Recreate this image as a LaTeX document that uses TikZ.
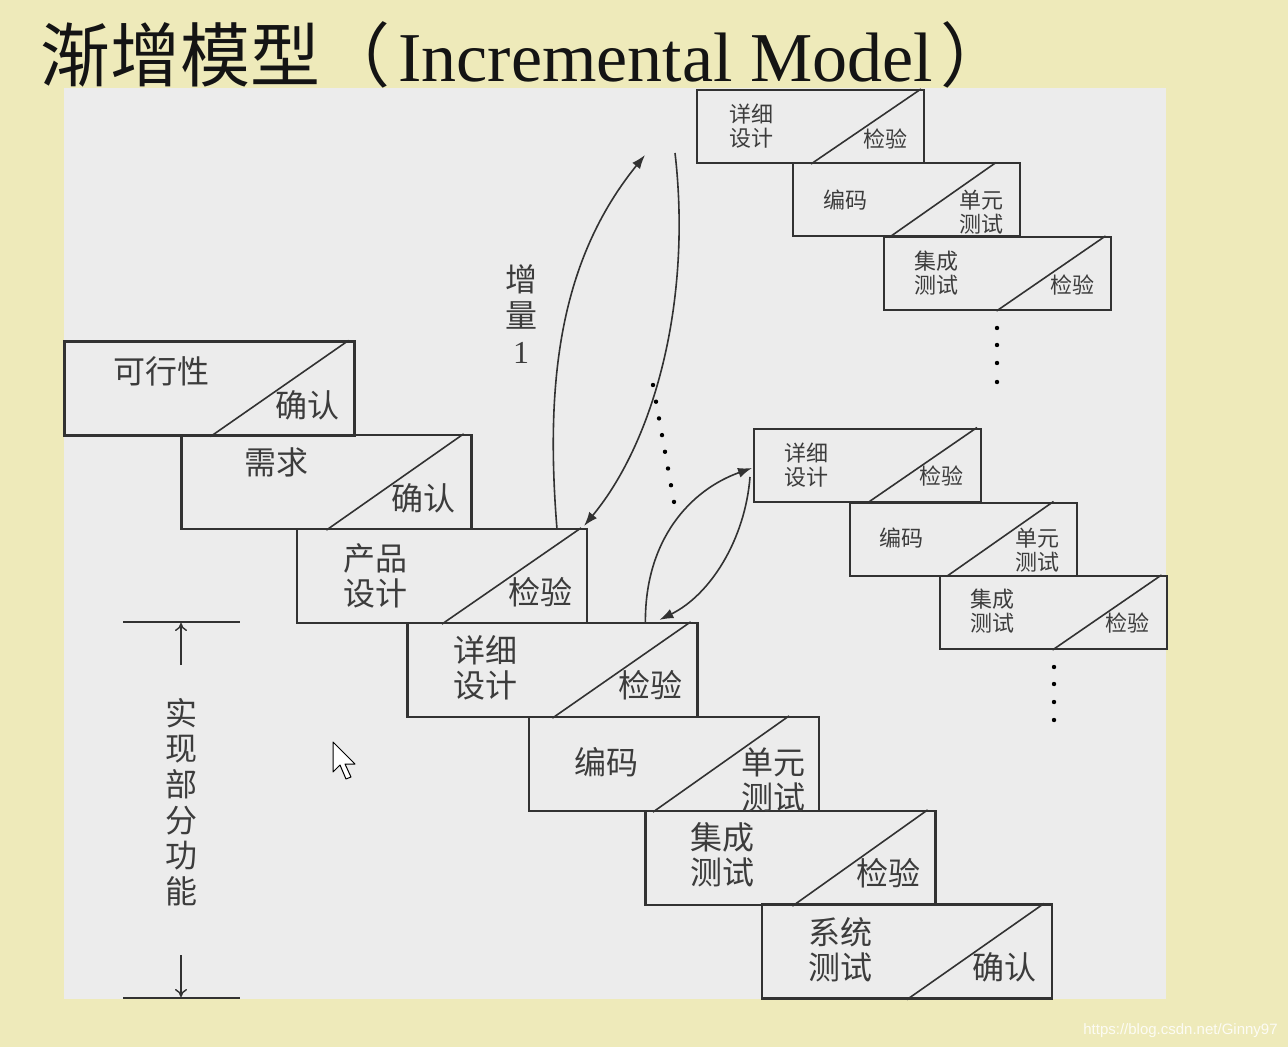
\documentclass[tikz,border=0pt]{standalone}
\usepackage{fontspec}
\setmainfont{Noto Sans CJK SC}
\newfontfamily\latinf{Liberation Serif}
\newfontfamily\wmfont{Liberation Sans}
\usetikzlibrary{calc,arrows.meta}
\definecolor{bgyellow}{RGB}{238,234,186}
\definecolor{panelgray}{RGB}{236,236,236}
\definecolor{linec}{RGB}{50,50,50}
\definecolor{txtc}{RGB}{60,60,60}
\begin{document}
\begin{tikzpicture}[x=0.5pt,y=-0.5pt,
  bigbox/.style={draw=linec,line width=1.1pt,minimum width=145pt,minimum height=47pt,inner sep=0pt},
  smallbox/.style={draw=linec,line width=1pt,minimum width=113.5pt,minimum height=36.5pt,inner sep=0pt},
  diag/.style={draw=linec,line width=0.8pt},
  bigtxt/.style={text=txtc,font=\fontsize{16}{17.5}\selectfont,inner sep=0pt,align=center},
  smalltxt/.style={text=txtc,font=\fontsize{11}{12}\selectfont,inner sep=0pt,align=center},
  conn/.style={draw=linec,line width=0.8pt},
  arr/.style={conn,-{Latex[length=7pt,width=5pt]}},
  dimarr/.style={draw=linec,line width=0.7pt,-{To[length=4pt,width=6pt]}},
  dotc/.style={fill=black}
]
\useasboundingbox (0,0) rectangle (1288,1047);
\fill[bgyellow] (0,0) rectangle (1288,1047);
\fill[panelgray] (64,88) rectangle (1166,999);

% title
\node[anchor=base west,inner sep=0pt,text={rgb,255:red,20;green,20;blue,20},font=\fontsize{35}{35}\selectfont] (title) at (40,82)
  {渐增模型（\hspace{4pt}{\latinf Incremental Model}\hspace{4pt}）};

% main staircase
\node[bigbox] (b1) at (209.5,388.5) {};
\node[bigbox] (b2) at (326.5,482) {};
\node[bigbox] (b3) at (442,576) {};
\node[bigbox] (b4) at (552.5,670) {};
\node[bigbox] (b5) at (674,764) {};
\node[bigbox] (b6) at (790.5,858) {};
\node[bigbox] (b7) at (907,951.5) {};
\draw[diag] ($(b1.south west)+(147,0)$) -- ($(b1.north east)+(-7,0)$);
\draw[diag] ($(b2.south west)+(146,0)$) -- ($(b2.north east)+(-9,0)$);
\draw[diag] ($(b3.south west)+(146,0)$) -- ($(b3.north east)+(-7,0)$);
\draw[diag] ($(b4.south west)+(146,0)$) -- ($(b4.north east)+(-8,0)$);
\draw[diag] ($(b5.south west)+(125,0)$) -- ($(b5.north east)+(-31,0)$);
\draw[diag] ($(b6.south west)+(148,0)$) -- ($(b6.north east)+(-9,0)$);
\draw[diag] ($(b7.south west)+(146,0)$) -- ($(b7.north east)+(-9,0)$);

\node[bigtxt] (t1a) at (161,371) {可行性};
\node[bigtxt] (t1b) at (307,405) {确认};
\node[bigtxt] (t2a) at (276,462) {需求};
\node[bigtxt] (t2b) at (423,498) {确认};
\node[bigtxt] (t3a) at (375,575.5) {产品\\设计};
\node[bigtxt] (t3b) at (540,592) {检验};
\node[bigtxt] (t4a) at (485,667.5) {详细\\设计};
\node[bigtxt] (t4b) at (650,685) {检验};
\node[bigtxt] (t5a) at (606,762) {编码};
\node[bigtxt] (t5b) at (773,779.5) {单元\\测试};
\node[bigtxt] (t6a) at (722,855) {集成\\测试};
\node[bigtxt] (t6b) at (888,873) {检验};
\node[bigtxt] (t7a) at (840,949.5) {系统\\测试};
\node[bigtxt] (t7b) at (1004,967) {确认};

% top-right staircase
\node[smallbox] (a1) at (810.5,126.5) {};
\node[smallbox] (a2) at (906.5,200) {};
\node[smallbox] (a3) at (997,273.5) {};
\draw[diag] ($(a1.south west)+(115,0)$) -- ($(a1.north east)+(-4,0)$);
\draw[diag] ($(a2.south west)+(97,0)$) -- ($(a2.north east)+(-25,0)$);
\draw[diag] ($(a3.south west)+(114,0)$) -- ($(a3.north east)+(-6,0)$);
\node[smalltxt] (ta1a) at (751,126) {详细\\设计};
\node[smalltxt] (ta1b) at (885,139) {检验};
\node[smalltxt] (ta2a) at (845,200) {编码};
\node[smalltxt] (ta2b) at (981,212) {单元\\测试};
\node[smalltxt] (ta3a) at (936,273) {集成\\测试};
\node[smalltxt] (ta3b) at (1072,285) {检验};
\foreach \yy in {328,345,363,382} \fill[dotc] (997,\yy) circle (1.1pt);

% middle-right staircase
\node[smallbox] (c1) at (867.5,465) {};
\node[smallbox] (c2) at (963,539) {};
\node[smallbox] (c3) at (1053,612.5) {};
\draw[diag] ($(c1.south west)+(115,0)$) -- ($(c1.north east)+(-5,0)$);
\draw[diag] ($(c2.south west)+(98,0)$) -- ($(c2.north east)+(-24,0)$);
\draw[diag] ($(c3.south west)+(114,0)$) -- ($(c3.north east)+(-6,0)$);
\node[smalltxt] (tc1a) at (806,465) {详细\\设计};
\node[smalltxt] (tc1b) at (941,476) {检验};
\node[smalltxt] (tc2a) at (901,538) {编码};
\node[smalltxt] (tc2b) at (1037,550) {单元\\测试};
\node[smalltxt] (tc3a) at (992,611.5) {集成\\测试};
\node[smalltxt] (tc3b) at (1127,623) {检验};
\foreach \yy in {667,684,702,720} \fill[dotc] (1054,\yy) circle (1.1pt);

% increment 1 loop
\coordinate (u1s) at ($(b3.north west)+(261,0)$);
\coordinate (u1e) at (645,155);
\coordinate (d1s) at (675,153);
\draw[arr] (u1s) .. controls (545,380) and (560,260) .. (u1e);
\draw[arr] (d1s) .. controls (692,300) and (655,440) .. ($(b3.north east)+(-4,-2)$);
\node[bigtxt,font=\fontsize{16}{18}\selectfont] (inc1) at (521,314) {增\\量\\{\latinf 1}};
\foreach \k in {0,...,7} \fill[dotc] ({653+3*\k},{385+16.7*\k}) circle (1.1pt);

% small loop
\draw[arr] ($(b4.north west)+(239,0)$) .. controls (645,540) and (690,490) .. ($(c1.west)+(-1,3)$);
\draw[arr] ($(c1.west)+(-3,12)$) .. controls (745,540) and (710,595) .. ($(b4.north west)+(253,-2)$);

% dimension on the left
\coordinate (dTL) at (123,622);
\coordinate (dTR) at (240,622);
\coordinate (dBL) at (123,998);
\coordinate (dBR) at (240,998);
\coordinate (dTa) at (181,665);
\coordinate (dTb) at (181,623);
\coordinate (dBa) at (181,955);
\coordinate (dBb) at (181,997);
\draw[conn] (dTL) -- (dTR);
\draw[conn] (dBL) -- (dBR);
\draw[dimarr] (dTa) -- (dTb);
\draw[dimarr] (dBa) -- (dBb);
\node[bigtxt,font=\fontsize{16}{17.8}\selectfont] (vtext) at (181,802) {实\\现\\部\\分\\功\\能};

% mouse cursor
\draw[black,line width=0.5pt,fill=white,line join=round] (333,742) -- (333,772) -- (340,765) -- (346,779) -- (351,777) -- (345,764) -- (355,764) -- cycle;

% watermark
\node[anchor=base east,inner sep=0pt,text=white,opacity=0.85,font=\wmfont\fontsize{7.5}{8}\selectfont] (wm) at (1278,1034) {https://blog.csdn.net/Ginny97};
\end{tikzpicture}
\end{document}
